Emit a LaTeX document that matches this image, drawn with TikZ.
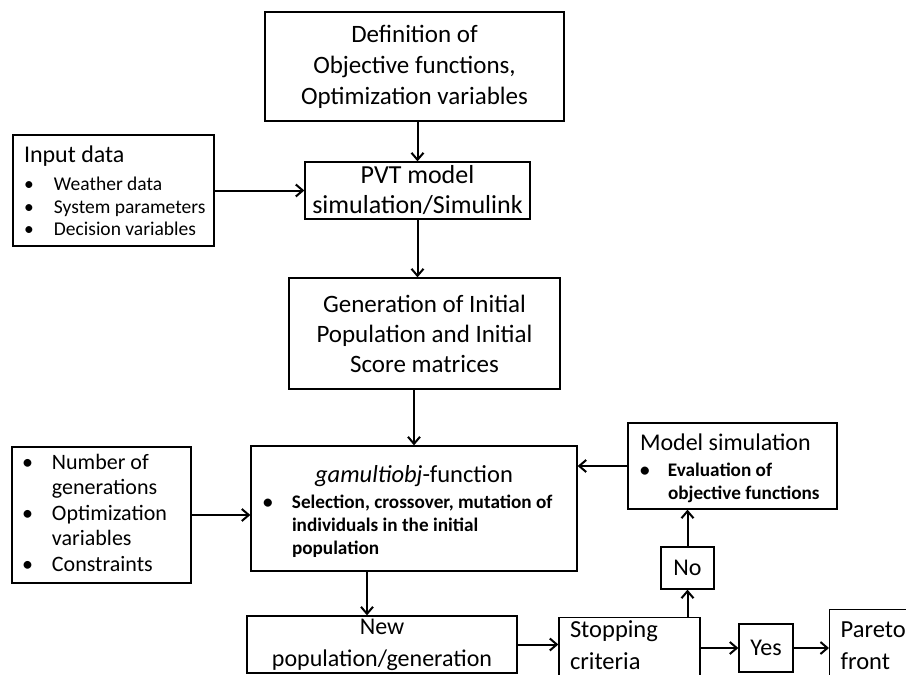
\documentclass[tikz,border=0pt]{standalone}
\usepackage{fontspec}
\setmainfont{Carlito}
\usetikzlibrary{arrows.meta}

\tikzset{
  blk/.style={draw,line width=1.3pt,inner sep=0pt,align=center,font=\fontsize{25}{31}\selectfont},
  lst/.style={blk,align=flush left,inner xsep=11pt},
  arr/.style={-{Straight Barb[length=7pt,width=12pt]},line width=2pt},
}

\begin{document}
\begin{tikzpicture}[x=1pt,y=-1pt]
  \useasboundingbox (0,0) rectangle (906,675);
  \clip (0,0) rectangle (906,675);
  \node[blk,minimum width=299pt,minimum height=109pt] (def) at (414.5,66.5) {Definition of\\Objective functions,\\Optimization variables};
  \node[blk,minimum width=225pt,minimum height=57pt,font=\fontsize{26}{30}\selectfont] (pvt) at (417.5,190.5) {PVT model\\simulation/Simulink};
  \node[lst,text width=179pt,minimum height=111pt,text height=24pt,font=\fontsize{24}{28}\selectfont] (inp) at (113.5,190.5) {Input data\\{\fontsize{19.5}{22.5}\selectfont\begin{tabular}[t]{@{}p{30pt}@{}l@{}}\textbullet&Weather data\\\textbullet&System parameters\\\textbullet&Decision variables\end{tabular}}};
  \node[blk,minimum width=271pt,minimum height=111pt,font=\fontsize{25}{30}\selectfont] (gen) at (424.5,333.5) {Generation of Initial\\Population and Initial\\Score matrices};
  \node[lst,inner xsep=10pt,text width=159pt,minimum height=136pt,font=\fontsize{22}{25.5}\selectfont] (opts) at (101.5,515) {\begin{tabular}{@{}p{30pt}@{}l@{}}\textbullet&Number of\\&generations\\\textbullet&Optimization\\&variables\\\textbullet&Constraints\end{tabular}};
  \node[lst,inner xsep=12pt,text width=302pt,minimum height=125pt,text height=26pt,font=\fontsize{24.5}{26}\selectfont] (gam) at (414,508.5) {\makebox[\linewidth]{\itshape gamultiobj\upshape-function}\\{\fontsize{19.2}{23}\selectfont\bfseries\begin{tabular}[t]{@{}p{29pt}@{}l@{}}\textbullet&Selection, crossover, mutation of\\&individuals in the initial\\&population\end{tabular}}};
  \node[lst,inner xsep=12pt,text width=185pt,minimum height=86pt,text height=24pt,font=\fontsize{24}{26}\selectfont] (model) at (732.5,466) {Model simulation\\{\fontsize{19.2}{23}\selectfont\bfseries\begin{tabular}[t]{@{}p{28pt}@{}l@{}}\textbullet&Evaluation of\\&objective functions\end{tabular}}};
  \node[blk,minimum width=53pt,minimum height=42pt,font=\fontsize{24}{28}\selectfont] (no) at (687.5,568) {No};
  \node[blk,minimum width=270pt,minimum height=57pt,font=\fontsize{24}{32}\selectfont] (new) at (382,644.5) {New\\population/generation};
  \node[lst,anchor=north,text width=119pt,text height=20pt,text depth=70pt,font=\fontsize{24.5}{32}\selectfont] (stop) at (629.5,617) {Stopping\\criteria};
  \node[blk,minimum width=54pt,minimum height=48pt,font=\fontsize{24}{28}\selectfont] (yes) at (766,648) {Yes};
  \node[lst,anchor=north west,text width=100pt,text height=28pt,text depth=70pt,font=\fontsize{24.5}{32}\selectfont] (pareto) at (829,609) {Pareto\\front};
  \draw[arr] (pvt.north |- def.south) -- (pvt.north);
  \draw[arr] (inp.east) -- (pvt.west);
  \draw[arr] (pvt.south) -- (pvt.south |- gen.north);
  \draw[arr] (gam.north |- gen.south) -- (gam.north);
  \draw[arr] (opts.east) -- (opts.east -| gam.west);
  \draw[arr] (model.west) -- (model.west -| gam.east);
  \draw[arr] ([xshift=-47pt]gam.south) -- ([xshift=-47pt]gam.south |- new.north);
  \draw[arr] (new.east) -- (new.east -| stop.west);
  \draw[arr] (no.south |- stop.north) -- (no.south);
  \draw[arr] (no.north) -- (no.north |- model.south);
  \draw[arr] (yes.west -| stop.east) -- (yes.west);
  \draw[arr] (yes.east) -- (yes.east -| pareto.west);
\end{tikzpicture}
\end{document}
